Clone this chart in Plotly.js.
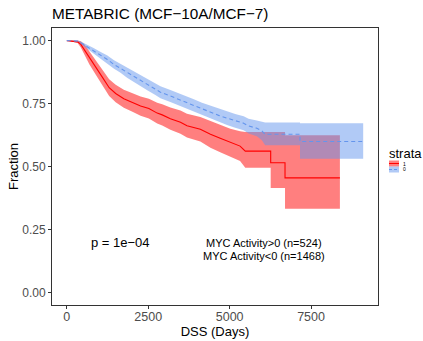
<!DOCTYPE html>
<html>
<head>
<meta charset="utf-8">
<script src="https://cdn.plot.ly/plotly-3.0.1.min.js"></script>
<style>html,body{margin:0;padding:0;background:#fff;}#chart{width:423px;height:341px;}</style>
</head>
<body>
<div id="chart"></div>
<script>
// ---- Data ----
// strata "1": MYC Activity>0 (n=524)
const timeRed  = [0, 330, 430, 540, 695, 900, 1100, 1300, 1500, 1750, 2000, 2265, 2520, 2775, 2930, 3180, 3490, 3690, 4100, 4410, 4710, 5020, 5320, 5480, 6260, 6260, 6700, 6700, 8385];
const survRed  = [1, 0.995, 0.985, 0.964, 0.931, 0.891, 0.853, 0.813, 0.790, 0.769, 0.755, 0.740, 0.730, 0.712, 0.705, 0.690, 0.676, 0.662, 0.648, 0.628, 0.612, 0.595, 0.581, 0.561, 0.561, 0.515, 0.515, 0.455, 0.455];
const upperRed = [1, 1, 0.997, 0.985, 0.957, 0.920, 0.883, 0.846, 0.825, 0.805, 0.792, 0.778, 0.769, 0.753, 0.747, 0.734, 0.722, 0.709, 0.697, 0.682, 0.667, 0.650, 0.640, 0.637, 0.637, 0.637, 0.637, 0.624, 0.624];
const lowerRed = [1, 0.99, 0.973, 0.943, 0.905, 0.862, 0.823, 0.780, 0.755, 0.733, 0.718, 0.702, 0.691, 0.671, 0.663, 0.646, 0.630, 0.615, 0.599, 0.574, 0.557, 0.540, 0.522, 0.495, 0.495, 0.415, 0.415, 0.332, 0.332];

// strata "0": MYC Activity<0 (n=1468)
const timeBlue  = [0, 330, 430, 635, 835, 1040, 1245, 1450, 1650, 1850, 2060, 2270, 2470, 2720, 2875, 3180, 3390, 3650, 3900, 4150, 4410, 4660, 4920, 5170, 5430, 5580, 5835, 5990, 6090, 7160, 7160, 9100];
const survBlue  = [1, 0.998, 0.991, 0.975, 0.958, 0.941, 0.925, 0.905, 0.890, 0.872, 0.857, 0.840, 0.826, 0.808, 0.795, 0.780, 0.769, 0.756, 0.742, 0.728, 0.715, 0.703, 0.692, 0.681, 0.672, 0.661, 0.652, 0.641, 0.628, 0.628, 0.599, 0.599];
const upperBlue = [1, 1, 0.996, 0.984, 0.970, 0.955, 0.941, 0.922, 0.908, 0.892, 0.878, 0.862, 0.849, 0.832, 0.819, 0.804, 0.794, 0.781, 0.767, 0.753, 0.741, 0.729, 0.719, 0.708, 0.700, 0.690, 0.683, 0.677, 0.675, 0.675, 0.672, 0.672];
const lowerBlue = [1, 0.996, 0.986, 0.966, 0.946, 0.927, 0.909, 0.888, 0.872, 0.852, 0.836, 0.818, 0.803, 0.784, 0.771, 0.756, 0.745, 0.731, 0.717, 0.703, 0.690, 0.677, 0.665, 0.654, 0.644, 0.631, 0.620, 0.604, 0.584, 0.584, 0.531, 0.531];

const strataNames = ["1", "0"];
const xTicks = [0, 2500, 5000, 7500];
const yTicks = [0, 0.25, 0.5, 0.75, 1];
const yTickText = ["0.00", "0.25", "0.50", "0.75", "1.00"];
const titleText = "METABRIC (MCF\u221210A/MCF\u22127)";
const pText = "p = 1e\u221204";
const groupLabels = ["MYC Activity&gt;0 (n=524)", "MYC Activity&lt;0 (n=1468)"];

// ---- Styles ----
const RED = "#FF0000", RED_FILL = "rgba(255,0,0,0.5)";
const BLUE = "#6495ED", BLUE_FILL = "rgba(100,149,237,0.5)";
const FONT = "Liberation Sans, Arial, Helvetica, sans-serif";

const W = 423, H = 341;
const M = {l: 52, r: 45, t: 28, b: 36};
const px = x => (x - M.l) / (W - M.l - M.r);
const py = y => (H - M.b - y) / (H - M.t - M.b);

const traces = [
  {x: timeRed, y: lowerRed, mode: "lines", line: {width: 0}, showlegend: false, hoverinfo: "skip"},
  {x: timeRed, y: upperRed, mode: "lines", line: {width: 0}, fill: "tonexty", fillcolor: RED_FILL, showlegend: false, hoverinfo: "skip"},
  {x: timeBlue, y: lowerBlue, mode: "lines", line: {width: 0}, showlegend: false, hoverinfo: "skip"},
  {x: timeBlue, y: upperBlue, mode: "lines", line: {width: 0}, fill: "tonexty", fillcolor: BLUE_FILL, showlegend: false, hoverinfo: "skip"},
  {x: timeRed, y: survRed, name: strataNames[0], mode: "lines", line: {color: RED, width: 1.1}, showlegend: false},
  {x: timeBlue, y: survBlue, name: strataNames[1], mode: "lines", line: {color: BLUE, width: 1.1, dash: "4px,3px"}, showlegend: false}
];

const layout = {
  width: W, height: H,
  margin: M,
  paper_bgcolor: "#fff", plot_bgcolor: "#fff",
  font: {family: FONT, color: "#000"},
  title: {text: titleText, font: {size: 15.3, color: "#000", family: FONT},
          x: 0, xref: "paper", xanchor: "left", y: 1 - 14 / H, yref: "container", yanchor: "middle"},
  xaxis: {range: [-455, 9555], tickvals: xTicks, ticktext: xTicks.map(String), showgrid: false, zeroline: false,
          showline: true, mirror: true, linecolor: "#333", linewidth: 1,
          ticks: "outside", ticklen: 3, tickcolor: "#333", tickwidth: 1, ticklabelstandoff: -3,
          tickfont: {size: 12.5, color: "#4d4d4d"},
          title: {text: "DSS (Days)", font: {size: 13, color: "#000"}, standoff: 1}},
  yaxis: {range: [-0.05, 1.05], tickvals: yTicks, ticktext: yTickText, showgrid: false, zeroline: false,
          showline: true, mirror: true, linecolor: "#333", linewidth: 1,
          ticks: "outside", ticklen: 3, tickcolor: "#333", tickwidth: 1,
          tickfont: {size: 12, color: "#4d4d4d"},
          title: {text: "Fraction", font: {size: 13, color: "#000"}, standoff: 0}},
  showlegend: false,
  annotations: [
    {text: pText, xref: "x", yref: "y", x: 1650, y: 0.2, showarrow: false, font: {size: 13, color: "#000"}, xanchor: "center", yanchor: "middle"},
    {text: groupLabels[0], xref: "x", yref: "y", x: 6060, y: 0.197, showarrow: false, font: {size: 11, color: "#000"}, xanchor: "center", yanchor: "middle"},
    {text: groupLabels[1], xref: "x", yref: "y", x: 6060, y: 0.144, showarrow: false, font: {size: 11, color: "#000"}, xanchor: "center", yanchor: "middle"},
    {text: "strata", xref: "paper", yref: "paper", x: px(387), y: py(153), showarrow: false, font: {size: 13, color: "#000"}, xanchor: "left", yanchor: "middle"},
    {text: strataNames[0], xref: "paper", yref: "paper", x: px(401), y: py(163.5), showarrow: false, font: {size: 5, color: "#000"}, xanchor: "left", yanchor: "middle"},
    {text: strataNames[1], xref: "paper", yref: "paper", x: px(401), y: py(169.5), showarrow: false, font: {size: 5, color: "#000"}, xanchor: "left", yanchor: "middle"}
  ],
  shapes: [
    {type: "rect", xref: "paper", yref: "paper", x0: px(389), x1: px(399), y0: py(166.5), y1: py(160.5), fillcolor: RED_FILL, line: {width: 0}},
    {type: "line", xref: "paper", yref: "paper", x0: px(389), x1: px(399), y0: py(163.5), y1: py(163.5), line: {color: RED, width: 1}},
    {type: "rect", xref: "paper", yref: "paper", x0: px(389), x1: px(399), y0: py(172.5), y1: py(166.5), fillcolor: BLUE_FILL, line: {width: 0}},
    {type: "line", xref: "paper", yref: "paper", x0: px(389), x1: px(399), y0: py(169.5), y1: py(169.5), line: {color: BLUE, width: 1, dash: "3px,2px"}}
  ]
};

Plotly.newPlot("chart", traces, layout, {displayModeBar: false, staticPlot: true});
</script>
</body>
</html>
